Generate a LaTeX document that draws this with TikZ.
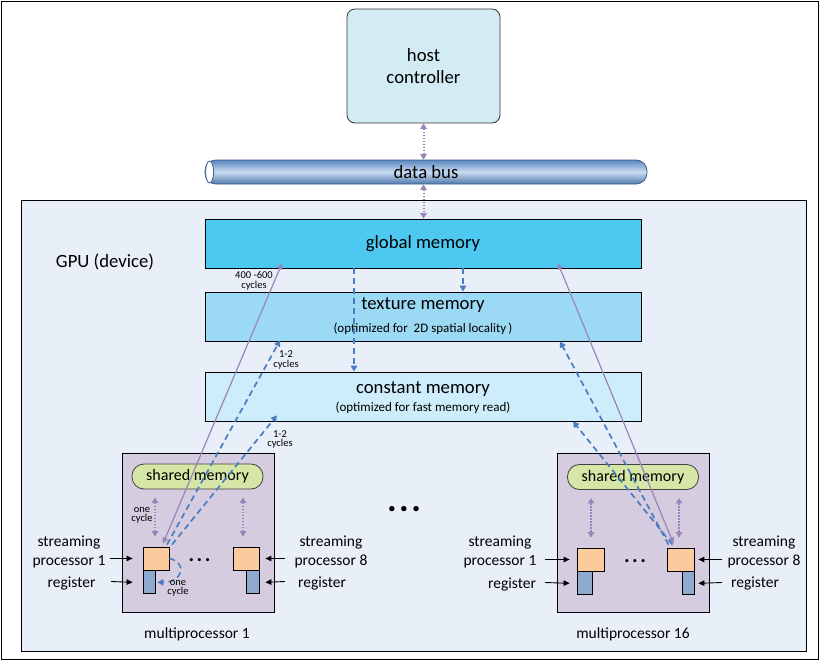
\documentclass[tikz,border=0pt]{standalone}
\usepackage{fontspec}
\setmainfont{Carlito}
\usetikzlibrary{arrows.meta,calc}
\definecolor{gpubg}{HTML}{E9EFF8}
\definecolor{hostc}{HTML}{D3ECF3}
\definecolor{globc}{HTML}{4DC8F1}
\definecolor{texc}{HTML}{9BD9F4}
\definecolor{constc}{HTML}{CDEDFB}
\definecolor{mpc}{HTML}{D5CCE0}
\definecolor{smc}{HTML}{D5E6A6}
\definecolor{spc}{HTML}{FBCB9D}
\definecolor{regc}{HTML}{8EAACE}
\definecolor{purp}{HTML}{9A84BA}
\definecolor{bdash}{HTML}{4A7DC0}
\definecolor{busdark}{HTML}{5A87C0}
\definecolor{buslight}{HTML}{C9DBF0}
\definecolor{busline}{HTML}{3B5E8F}
\begin{document}
\begin{tikzpicture}[x=1pt,y=-1pt,
 box/.style={draw=black, line width=0.8pt, inner sep=0pt, rectangle},
 mem/.style={box, minimum width=436pt, minimum height=49pt},
 lab/.style={font=\fontsize{18.7}{22}\selectfont, align=center, inner sep=0pt},
 subl/.style={font=\fontsize{13}{15}\selectfont, inner sep=0pt},
 small/.style={font=\fontsize{10.5}{9.5}\selectfont, align=center, inner sep=0pt},
 side/.style={font=\fontsize{15.5}{19}\selectfont, align=center, inner sep=0pt},
 mpbox/.style={box, fill=mpc, minimum width=152pt, minimum height=159pt},
 smbox/.style={draw=black!75, line width=0.8pt, fill=smc, rounded corners=12pt, minimum width=131pt, minimum height=25pt, inner sep=0pt, font=\fontsize{16}{18}\selectfont},
 spbox/.style={box, fill=spc, minimum width=26pt, minimum height=23pt},
 regbox/.style={box, fill=regc, minimum width=12pt, minimum height=23pt},
 pdot/.style={purp, line width=2pt, dash pattern=on 1.6pt off 1.4pt, {Triangle[width=6.5pt,length=5.5pt]}-{Triangle[width=6.5pt,length=5.5pt]}},
 plong/.style={purp, line width=1.2pt, {Triangle[width=5.5pt,length=6pt]}-{Triangle[width=5.5pt,length=6pt]}},
 bd/.style={bdash, line width=1.7pt, dash pattern=on 6pt off 4pt, -{Triangle[width=6.5pt,length=6pt]}},
 blk/.style={black, line width=0.9pt, -{Triangle[width=5.5pt,length=6pt]}},
 dotsl/.style={inner sep=0pt, font=\fontsize{21}{22}\selectfont\bfseries},
]
\useasboundingbox (0,0) rectangle (820,661);
\draw[line width=1pt] (1.5,1.5) rectangle (818.5,659.5);

% GPU
\node[box, fill=gpubg, minimum width=785.5pt, minimum height=450.5pt] (gpu) at (413.75,425.75) {};
\node[lab] (gpul) at (105,262) {GPU (device)};

% host and bus
\node[draw=black!80, line width=0.8pt, fill=hostc, rounded corners=8pt, minimum width=153pt, minimum height=114pt, lab] (host) at (423.5,66) {host\\controller};
\node[shade, top color=busdark, bottom color=busdark!90!black, middle color=buslight, draw=busline, line width=0.8pt, rounded corners=11pt, minimum width=442pt, minimum height=24pt, inner sep=0pt, lab] (bus) at (426,172) {data bus};
\draw[busline, fill=white, line width=0.8pt] ($(bus.west)+(5,0)$) ellipse [x radius=4pt, y radius=11pt];

% memories
\node[mem, fill=globc, lab] (global) at (423,243.5) {global memory};
\node[mem, fill=texc] (texture) at (423,316.5) {};
\node[lab] (texl) at ($(texture.center)+(0,-11.5)$) {texture memory};
\node[subl] (texs) at ($(texture.center)+(0,12.5)$) {(optimized for \ 2D spatial locality\,)};
\node[mem, fill=constc] (constant) at (423,396.5) {};
\node[lab] (conl) at ($(constant.center)+(0,-7.5)$) {constant memory};
\node[subl] (cons) at ($(constant.center)+(0,11.5)$) {(optimized for fast memory read)};

% multiprocessors
\node[mpbox] (mp1) at (198,532.5) {};
\node[mpbox] (mp16) at (633,532.5) {};
\node[smbox] (sm1) at (197.5,476.5) {shared memory};
\node[smbox] (sm16) at (633,477) {shared memory};

\node[spbox] (sp1a) at (156,558.5) {};
\node[regbox, anchor=north west] (reg1a) at (sp1a.south west) {};
\node[spbox] (sp8a) at (246,558.5) {};
\node[regbox, anchor=north east, minimum width=13pt] (reg8a) at (sp8a.south east) {};
\node[spbox, minimum width=27pt] (sp1b) at (590.5,559.5) {};
\node[regbox, anchor=north west, minimum width=15pt] (reg1b) at (sp1b.south west) {};
\node[spbox, minimum width=27pt] (sp8b) at (680.5,559.5) {};
\node[regbox, anchor=north east] (reg8b) at (sp8b.south east) {};

\node[dotsl] (dots1) at (199.5,560) {.\hspace{2.5pt}.\hspace{2.5pt}.};
\node[dotsl] (dots16) at (635,561) {.\hspace{2.5pt}.\hspace{2.5pt}.};
\node[dotsl, font=\fontsize{36}{38}\selectfont\bfseries] (dotsmid) at (404,509) {.\hspace{2.5pt}.\hspace{2.5pt}.};

\node[side] (mpl1) at (197,634) {multiprocessor 1};
\node[side] (mpl16) at (633,634) {multiprocessor 16};

% bus arrows
\draw[pdot] (host.south) -- (host.south |- bus.north);
\draw[pdot] (host.south |- bus.south) -- (host.south |- global.north);

% memory internal dashed arrows
\draw[bd] ($(global.south)+(-69,0)$) -- ($(constant.north)+(-69,0)$);
\draw[bd] ($(global.south)+(40,0)$) -- ($(texture.north)+(40,0)$);

% mp1 long arrows
\draw[plong] ($(sp1a.north)+(7,-3)$) -- ($(global.south)+(-141,-5)$);
\draw[bd] ($(sp1a.north)+(11,-2)$) -- ($(texture.south)+(-143,-1)$);
\draw[bd] ($(sp1a.north)+(16,-2)$) -- ($(constant.south)+(-146,-6)$);

% mp16 long arrows
\draw[plong] ($(sp8b.north)+(-7,-4)$) -- ($(global.south)+(135,-5)$);
\draw[bd] ($(sp8b.north)+(-12,-3)$) -- ($(texture.south)+(137,0)$);
\draw[bd] ($(sp8b.north)+(-8,-3)$) -- ($(constant.south)+(150,0)$);

% shared memory arrows
\draw[pdot] ($(sm1.south -| sp1a.north)+(-1,8)$) -- ($(sp1a.north)+(-1,-10)$);
\draw[pdot] ($(sm1.south -| sp8a.north)+(-3,8)$) -- ($(sp8a.north)+(-3,-10)$);
\draw[pdot] ($(sm16.south -| sp1b.north)+(0.5,8)$) -- ($(sp1b.north)+(0.5,-10)$);
\draw[pdot] ($(sm16.south -| sp8b.north)+(-1.5,8)$) -- ($(sp8b.north)+(-1.5,-10)$);

% register loop
\draw[bd, line width=1.5pt] (sp1a.east) .. controls +(18,4) and +(26,0) .. ($(reg1a.east)+(2,0)$);

% side labels and arrows
\coordinate (a1) at (110,558.5);
\coordinate (a2) at (111,581.5);
\coordinate (b1) at (285,558.5);
\coordinate (b2) at (285,581.5);
\coordinate (c1) at (545,559.5);
\coordinate (c2) at (545,582.5);
\coordinate (d1) at (722,559.5);
\coordinate (d2) at (722,582.5);
\draw[blk] (a1) -- ($(sp1a.west)+(-10,0)$);
\draw[blk] (a2) -- ($(reg1a.west)+(-10,0)$);
\draw[blk] (b1) -- ($(sp8a.east)+(6,0)$);
\draw[blk] (b2) -- ($(reg8a.east)+(6,0)$);
\draw[blk] (c1) -- ($(sp1b.west)+(-7,0)$);
\draw[blk] (c2) -- ($(reg1b.west)+(-7,0)$);
\draw[blk] (d1) -- ($(sp8b.east)+(4,0)$);
\draw[blk] (d2) -- ($(reg8b.east)+(4,0)$);

\node[side] (sl1) at (69,551.5) {streaming\\processor 1};
\node[side] (rl1) at (71.5,583) {register};
\node[side] (sl8) at (331,552) {streaming\\processor 8};
\node[side] (rl8) at (322,583) {register};
\node[side] (sl1b) at (500,552) {streaming\\processor 1};
\node[side] (rl1b) at (512,584) {register};
\node[side] (sl8b) at (764,552) {streaming\\processor 8};
\node[side] (rl8b) at (755,583) {register};

% small labels
\node[small] (oc1) at (142,515.5) {one\\cycle};
\node[small] (oc2) at (178,588.5) {one\\cycle};
\node[small] (cyc1) at (254,281) {400 -600\\cycles};
\node[small] (cyc2) at (286,360) {1-2\\cycles};
\node[small] (cyc3) at (280,439.5) {1-2\\cycles};
\end{tikzpicture}
\end{document}
